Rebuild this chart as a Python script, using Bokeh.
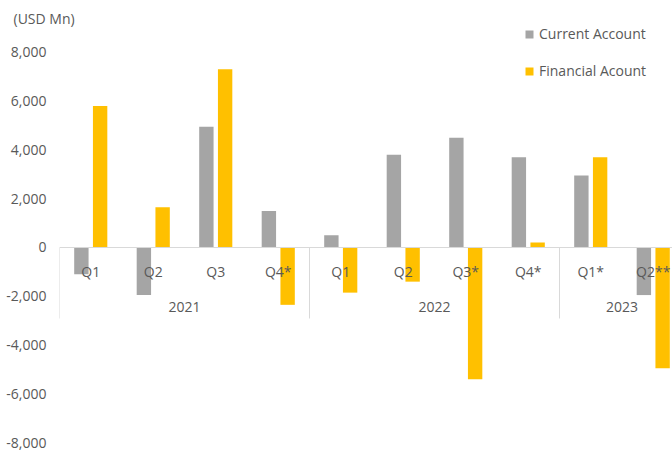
from bokeh.plotting import figure
from bokeh.models import Range1d, FixedTicker, NumeralTickFormatter, Span, Legend, LegendItem
from bokeh.core.properties import value
from bokeh.embed import file_html
from bokeh.resources import INLINE

quarters = ["Q1", "Q2", "Q3", "Q4*", "Q1", "Q2", "Q3*", "Q4*", "Q1*", "Q2**"]
years = ["2021", "2022", "2023"]
year_counts = [4, 4, 2]
current_account = [-1100, -1950, 4950, 1500, 500, 3800, 4500, 3700, 2950, -1950]
financial_account = [5800, 1650, 7300, -2350, -1850, -1400, -5400, 200, 3700, -4950]
y_ticks = [-8000, -6000, -4000, -2000, 0, 2000, 4000, 6000, 8000]

FONT = "Open Sans"
FS = "14px"
TXT = "#595959"
GRAY = "#A5A5A5"
GOLD = "#FFC000"

idx = list(range(len(quarters)))

p = figure(width=672, height=451, output_backend="svg", toolbar_location=None,
           x_range=Range1d(-0.5, 9.308), y_range=Range1d(-8361, 9139),
           x_axis_location=None, min_border_left=59, min_border_right=0,
           min_border_top=24, min_border_bottom=0, outline_line_color=None,
           title="(USD Mn)", title_location="above")
p.grid.visible = False

p.title.align = "left"
p.title.offset = -46
p.title.standoff = -6
p.title.text_font = FONT
p.title.text_font_size = FS
p.title.text_font_style = "normal"
p.title.text_color = TXT

ax = p.yaxis[0]
ax.ticker = FixedTicker(ticks=y_ticks)
ax.formatter = NumeralTickFormatter(format="0,0")
ax.axis_line_color = None
ax.major_tick_line_color = None
ax.minor_tick_line_color = None
ax.major_tick_out = 0
ax.major_tick_in = 0
ax.major_label_standoff = 13
ax.major_label_text_font = FONT
ax.major_label_text_font_size = FS
ax.major_label_text_color = TXT

p.add_layout(Span(location=0, dimension="width", line_color="#D9D9D9", line_width=1))

# year separators
bounds = [-0.5]
for c in year_counts:
    bounds.append(bounds[-1] + c)
p.segment(x0=bounds, x1=bounds, y0=[0] * len(bounds), y1=[-2910] * len(bounds),
          line_color="#D9D9D9", line_width=1)

r1 = p.vbar(x=[i - 0.15 for i in idx], top=current_account, bottom=0, width=0.23,
            fill_color=GRAY, line_color=None)
r2 = p.vbar(x=[i + 0.15 for i in idx], top=financial_account, bottom=0, width=0.23,
            fill_color=GOLD, line_color=None)

p.text(x=idx, y=[0] * len(idx), text=quarters, y_offset=24, text_align="center",
       text_baseline="middle", text_font=value(FONT), text_font_size=FS, text_color=TXT)

year_x = []
start = 0
for c in year_counts:
    year_x.append(start + (c - 1) / 2)
    start += c
p.text(x=year_x, y=[0] * len(year_x), text=years, y_offset=60, text_align="center",
       text_baseline="middle", text_font=value(FONT), text_font_size=FS, text_color=TXT)

legend = Legend(items=[LegendItem(label="Current Account", renderers=[r1]),
                       LegendItem(label="Financial Acount", renderers=[r2])],
                location=(465, 371), orientation="vertical",
                glyph_width=10, glyph_height=10, label_height=14, spacing=18,
                padding=0, margin=0, label_standoff=5,
                border_line_color=None, background_fill_alpha=0,
                label_text_font=FONT, label_text_font_size=FS, label_text_color=TXT)
p.add_layout(legend)

open("out.html", "w").write(file_html(p, INLINE))
